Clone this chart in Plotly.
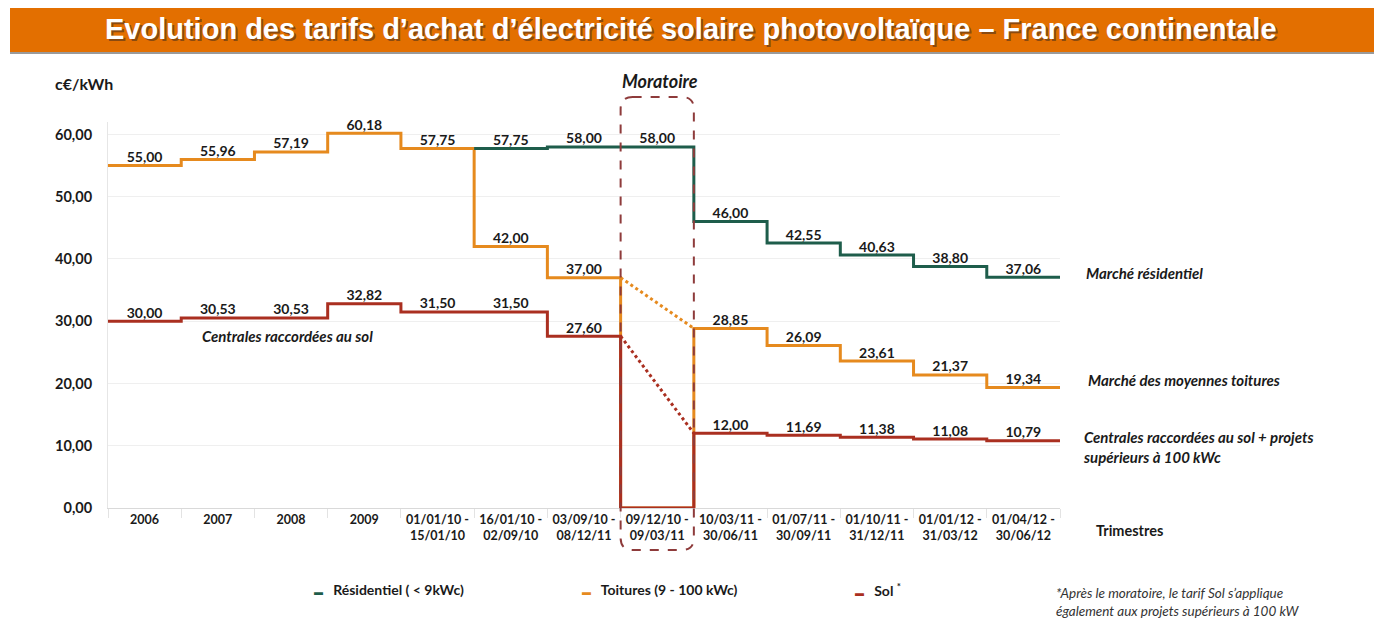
import plotly.graph_objects as go

# data
categories = ["2006", "2007", "2008", "2009",
              "01/01/10 -<br>15/01/10", "16/01/10 -<br>02/09/10", "03/09/10 -<br>08/12/11",
              "09/12/10 -<br>09/03/11", "10/03/11 -<br>30/06/11", "01/07/11 -<br>30/09/11",
              "01/10/11 -<br>31/12/11", "01/01/12 -<br>31/03/12", "01/04/12 -<br>30/06/12"]
residentiel = [None, None, None, None, None, 57.75, 58.00, 58.00, 46.00, 42.55, 40.63, 38.80, 37.06]
toitures = [55.00, 55.96, 57.19, 60.18, 57.75, 42.00, 37.00, 0.00, 28.85, 26.09, 23.61, 21.37, 19.34]
sol = [30.00, 30.53, 30.53, 32.82, 31.50, 31.50, 27.60, 0.00, 12.00, 11.69, 11.38, 11.08, 10.79]
moratoire = 7
yticks = [0, 10, 20, 30, 40, 50, 60]

GREEN = "#1E5D4B"
ORANGE = "#E68A1E"
RED = "#AA2F20"
BOX = "#8E3B3B"
FONT = "Lato"
INK = "#1a1a1a"

# page has an 8px body margin, so work in screen pixels and shift
OFF = 8
W, H = 1384 - 2 * OFF, 623 - OFF
L, R, T, B = 108 - OFF, 1384 - OFF - 1060, 122 - OFF, 115


def px_x(p):
    return (p - OFF - L) / (W - L - R)


def px_y(p):
    return (H - B - (p - OFF)) / (H - T - B)


def fmt(v):
    return f"{v:.2f}".replace(".", ",")


n = len(categories)
edges = list(range(n + 1))
centers = [i + 0.5 for i in range(n)]

fig = go.Figure()


def step(vals, color):
    fig.add_trace(go.Scatter(x=edges, y=vals + [vals[-1]], mode="lines", line_shape="hv",
                             line=dict(color=color, width=3), hoverinfo="skip", showlegend=False))


def labels(vals):
    xs, ys, ts = [], [], []
    for i, v in enumerate(vals):
        if v is None or i == moratoire and v == 0:
            continue
        xs.append(centers[i])
        ys.append(v)
        ts.append(fmt(v))
    fig.add_trace(go.Scatter(x=xs, y=ys, mode="text", text=ts, textposition="top center",
                             textfont=dict(family=FONT, size=14, color=INK, weight="bold"),
                             cliponaxis=False, hoverinfo="skip", showlegend=False))


step(toitures, ORANGE)
step(residentiel, GREEN)
step(sol, RED)

# dotted links across the moratoire
for vals, color in [(toitures, ORANGE), (sol, RED)]:
    fig.add_trace(go.Scatter(x=[moratoire, moratoire + 1], y=[vals[moratoire - 1], vals[moratoire + 1]],
                             mode="lines", line=dict(color=color, width=3, dash="dot"),
                             hoverinfo="skip", showlegend=False))

labels(toitures)
labels(residentiel)
labels(sol)

# moratoire dashed rounded box
x0, x1 = moratoire, moratoire + 1
y0, y1 = px_y(550), px_y(97)
rx, ry = 12 / 73.2, 12 / (H - T - B)
path = (f"M {x0 + rx},{y1} L {x1 - rx},{y1} Q {x1},{y1} {x1},{y1 - ry} "
        f"L {x1},{y0 + ry} Q {x1},{y0} {x1 - rx},{y0} L {x0 + rx},{y0} "
        f"Q {x0},{y0} {x0},{y0 + ry} L {x0},{y1 - ry} Q {x0},{y1} {x0 + rx},{y1} Z")
fig.add_shape(type="path", path=path, xref="x", yref="paper",
              line=dict(color=BOX, width=2, dash="dash"), layer="above")

# title bar
fig.add_shape(type="rect", xref="paper", yref="paper", x0=px_x(10), x1=px_x(1374),
              y0=px_y(54), y1=px_y(52), line_width=0, fillcolor="#9a9a9a")
fig.add_shape(type="rect", xref="paper", yref="paper", x0=px_x(10), x1=px_x(1374),
              y0=px_y(52), y1=px_y(5), line_width=0, fillcolor="#E36F00")

title = "Evolution des tarifs d’achat d’électricité solaire photovoltaïque – France continentale"
ann = []
ann.append(dict(x=px_x(692.5), y=px_y(30.5), text=title,
                font=dict(family="Liberation Sans", size=29, color="#8a4a10", weight="bold")))
ann.append(dict(x=px_x(691), y=px_y(29), text=title,
                font=dict(family="Liberation Sans", size=29, color="white", weight="bold")))
ann.append(dict(x=px_x(84), y=px_y(83), text="c€/kWh",
                font=dict(family=FONT, size=16, color=INK, weight="bold")))
ann.append(dict(x=px_x(660), y=px_y(81), text="Moratoire",
                font=dict(family=FONT, size=18, color=INK, weight="bold", style="italic")))
ann.append(dict(x=px_x(287), y=px_y(336), text="Centrales raccordées au sol",
                font=dict(family=FONT, size=15, color=INK, weight="bold", style="italic")))
ann.append(dict(x=px_x(1084), y=px_y(273), text="Marché résidentiel", xanchor="left",
                font=dict(family=FONT, size=15, color=INK, weight="bold", style="italic")))
ann.append(dict(x=px_x(1086), y=px_y(380), text="Marché des moyennes toitures", xanchor="left",
                font=dict(family=FONT, size=15, color=INK, weight="bold", style="italic")))
ann.append(dict(x=px_x(1081), y=px_y(447), text="Centrales raccordées au sol + projets<br>supérieurs à 100 kWc",
                xanchor="left", align="left",
                font=dict(family=FONT, size=15, color=INK, weight="bold", style="italic")))
ann.append(dict(x=px_x(1094), y=px_y(530), text="Trimestres", xanchor="left",
                font=dict(family=FONT, size=14.5, color=INK, weight="bold")))
ann.append(dict(x=px_x(1054), y=px_y(602), text="*Après le moratoire, le tarif Sol s’applique<br>également aux projets supérieurs à 100 kW",
                xanchor="left", align="left",
                font=dict(family=FONT, size=13.5, color="#333333", style="italic")))

# legend
for xpos, color, name in [(312, GREEN, "Résidentiel ( < 9kWc)"),
                          (580, ORANGE, "Toitures (9 - 100 kWc)"),
                          (853, RED, "Sol <sup style='font-size:16px'>*</sup>")]:
    ann.append(dict(x=px_x(xpos), y=px_y(589), xanchor="left",
                    text=f"<span style='color:{color};font-size:9px'>▬</span>   {name}",
                    font=dict(family=FONT, size=14, color=INK, weight="bold")))

for a in ann:
    a.setdefault("xanchor", "center")
    a.update(xref="paper", yref="paper", showarrow=False, yanchor="middle")
fig.update_layout(annotations=ann)

fig.update_xaxes(range=[0, n], tickvals=centers, ticktext=categories, ticks="",
                 tickfont=dict(family=FONT, size=12.5, color=INK, weight="bold"),
                 showgrid=False, zeroline=False, showline=True, linecolor="#d9d9d9", linewidth=1,
                 minor=dict(tick0=0, dtick=1, ticks="outside", ticklen=9, tickcolor="#e3e3e3", showgrid=False))
fig.update_yaxes(range=[0, 62], tickvals=yticks, ticktext=[fmt(v) for v in yticks], ticks="",
                 ticklabelstandoff=12,
                 tickfont=dict(family=FONT, size=14.5, color=INK, weight="bold"),
                 showgrid=True, gridcolor="#efefef", zeroline=False,
                 showline=True, linecolor="#e6e6e6", linewidth=1)

fig.update_layout(width=W, height=H, margin=dict(l=L, r=R, t=T, b=B),
                  plot_bgcolor="white", paper_bgcolor="white", showlegend=False)

fig.write_html("out.html")
